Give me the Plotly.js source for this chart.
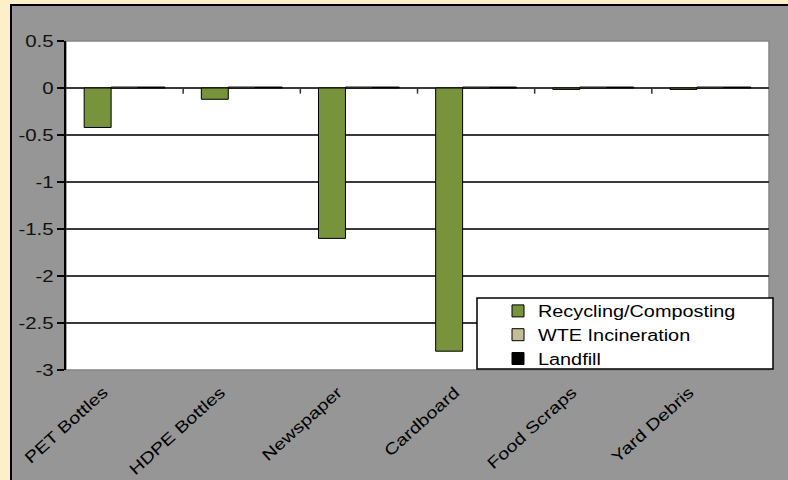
<!DOCTYPE html>
<html>
<head>
<meta charset="utf-8">
<script src="https://cdn.plot.ly/plotly-3.0.1.min.js"></script>
<style>
  html, body { margin: 0; padding: 0; background: #FCF0C9; width: 788px; height: 480px; overflow: hidden; }
  #wrap { position: absolute; left: 10px; top: 4px; width: 776px; height: 474px;
          border-left: 2px solid #000; border-top: 2px solid #000; background: #969696; }
  #chart { width: 776px; height: 474px; }
</style>
</head>
<body>
<div id="wrap"><div id="chart"></div></div>
<script>
// ---- data ----
const categories = ["PET Bottles", "HDPE Bottles", "Newspaper", "Cardboard", "Food Scraps", "Yard Debris"];
const recycling = [-0.42, -0.12, -1.6, -2.8, -0.015, -0.015];
const wte = [0.01, 0.01, 0.01, 0.01, 0.01, 0.01];
const landfill = [0.01, 0.01, 0.01, 0.01, 0.01, 0.01];
const seriesNames = ["Recycling/Composting", "WTE Incineration", "Landfill"];
const yTickVals = [0.5, 0, -0.5, -1, -1.5, -2, -2.5, -3];
const yTickText = ["0.5", "0", "-0.5", "-1", "-1.5", "-2", "-2.5", "-3"];

const colors = ["#77933C", "#C4BD97", "#000000"];
const seriesData = [recycling, wte, landfill];

const traces = seriesData.map((vals, i) => ({
  type: "bar",
  name: seriesNames[i],
  x: categories,
  y: vals,
  marker: { color: colors[i], line: { color: "#000", width: 1 } },
  hoverinfo: "skip"
}));

// small tick marks on the zero line at category boundaries
const shapes = [];
for (let i = 1; i < categories.length; i++) {
  shapes.push({ type: "line", xref: "x", yref: "y", x0: i - 0.5, x1: i - 0.5, y0: 0, y1: -0.06,
                line: { color: "#333", width: 1.5 }, layer: "above" });
}
// plot area border
shapes.push({ type: "rect", xref: "paper", yref: "paper", x0: 0, x1: 1, y0: 0, y1: 1,
              line: { color: "#858585", width: 1.5 }, layer: "below" });
// legend box
const W = 776, H = 474, ml = 54, mr = 19, mt = 35, mb = 110;
const pw = W - ml - mr, ph = H - mt - mb;
shapes.push({ type: "rect", xref: "paper", yref: "paper",
              x0: (465 - ml) / pw, x1: (761 - ml) / pw,
              y0: 1 - (363 - mt) / ph, y1: 1 - (292 - mt) / ph,
              fillcolor: "#fff", line: { color: "#000", width: 1.5 }, layer: "above" });

const layout = {
  width: W, height: H,
  margin: { l: ml, r: mr, t: mt, b: mb, pad: 0 },
  paper_bgcolor: "#969696",
  plot_bgcolor: "#ffffff",
  barmode: "group",
  bargap: 0.31,
  bargroupgap: 0,
  font: { family: "Liberation Sans, Arial, sans-serif", color: "#000" },
  xaxis: {
    type: "category",
    showgrid: false,
    showline: false,
    zeroline: false,
    ticks: "",
    tickangle: -42,
    tickfont: { size: 16, color: "#000" },
    ticklabelshift: -21,
    ticklabelstandoff: 9
  },
  yaxis: {
    range: [-3, 0.5],
    tickmode: "array",
    tickvals: yTickVals,
    ticktext: yTickText,
    showgrid: true,
    gridcolor: "#3a3a3a",
    gridwidth: 1.5,
    zeroline: true,
    zerolinecolor: "#3a3a3a",
    zerolinewidth: 1.5,
    showline: true,
    linecolor: "#000",
    linewidth: 2,
    ticks: "outside",
    ticklen: 7,
    tickcolor: "#000",
    tickwidth: 1.5,
    tickfont: { size: 17, color: "#111" },
    fixedrange: true
  },
  showlegend: true,
  legend: {
    x: (486 - ml) / pw,
    y: 1 - (288 - mt) / ph,
    xanchor: "left",
    yanchor: "top",
    bgcolor: "rgba(0,0,0,0)",
    borderwidth: 0,
    font: { size: 16, color: "#000" },
    traceorder: "normal"
  },
  shapes: shapes
};

Plotly.newPlot("chart", traces, layout, { displayModeBar: false, staticPlot: true }).then(() => {
  // the reference text is horizontally wide; stretch glyphs along their baselines
  const stretch = (sel, f) => document.querySelectorAll(sel).forEach(t => {
    const L = t.getComputedTextLength();
    if (L > 0) { t.setAttribute("textLength", (L * f).toFixed(1)); t.setAttribute("lengthAdjust", "spacingAndGlyphs"); }
  });
  stretch(".xtick text", 1.25);
  stretch(".ytick text", 1.2);
  stretch(".legendtext", 1.24);
  document.querySelectorAll(".legend [clip-path]").forEach(e => e.removeAttribute("clip-path"));
});
</script>
</body>
</html>
